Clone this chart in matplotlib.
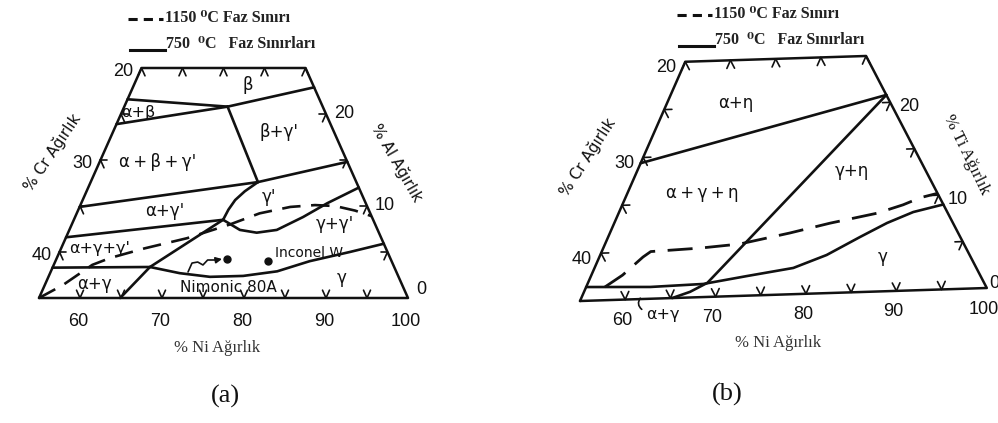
"""
Ni-rich corner of the Ni-Cr-Al (a) and Ni-Cr-Ti (b) sections.
Solid lines: 750 C phase boundaries, dashed: 1150 C boundary.
"""
import matplotlib.pyplot as plt
from matplotlib.transforms import Affine2D

# ---------------- (a) Ni-Cr-Al, points are (Ni wt%, Al wt%) ----------------
a_outline = [(55, 0), (55, 25), (75, 25), (100, 0), (55, 0)]

a_ab_top = [(55, 21.6), (67.6, 20.8)]
a_ab_bottom = [(55, 18.9), (67.6, 20.8)]
a_beta_bottom = [(67.6, 20.8), (77.1, 22.9)]
a_bgp_left = [(67.6, 20.8), (75.4, 12.6)]
a_bgp_bottom = [(75.4, 12.6), (85.2, 14.8)]
a_abg_bottom = [(55, 9.9), (75.4, 12.6)]
a_gp_left = [(73.2, 8.5), (73.3, 9.6), (73.6, 10.65), (74.3, 11.6), (75.4, 12.6)]
a_gp_bottom = [(73.2, 8.5), (75.8, 7.4), (78.0, 7.1), (80.3, 7.4), (82.8, 8.8),
               (85.0, 10.3), (88.0, 12.0)]
a_agp_bottom = [(55, 6.6), (73.2, 8.5)]
a_g_left = [(73.2, 8.5), (66.85, 3.37), (64.9, 0)]
a_ag_top = [(55, 3.3), (66.85, 3.37)]
a_g_top = [(66.85, 3.37), (70.8, 2.7), (74.7, 2.3), (78.7, 2.4), (82.6, 2.9),
           (86.0, 4.0), (90.4, 5.0), (94.1, 5.9)]
a_1150 = [(55, 0), (57.2, 1.4), (59.7, 3.6), (61.5, 4.35), (65.2, 5.4), (69.8, 6.5),
          (74.3, 8.0), (77.3, 9.2), (80.7, 9.9), (83.6, 10.1), (86.1, 10.0),
          (88.8, 9.5), (91.1, 8.9)]

nimonic_80a = (75.8, 4.24)
inconel_w = (80.9, 4.02)
nimonic_arrow = [(71.76, 2.83), (71.76, 3.8), (72.4, 3.91), (73.2, 3.59),
                 (73.5, 4.13), (74.6, 4.13), (75.2, 4.24)]

# ---------------- (b) Ni-Cr-Ti, points are (Ni wt%, Ti wt%) ----------------
b_outline = [(55, 0), (55, 25), (75, 25), (100, 0), (55, 0)]

b_an_bottom = [(55, 14.4), (79.2, 20.8)]
b_gn_left = [(79.2, 20.8), (68.4, 1.5), (66.9, 0.6), (65.2, 0)]
b_g_top = [(55, 1.46), (62.2, 1.25), (68.0, 1.39), (72.5, 2.08), (77.3, 2.78),
           (80.4, 4.04), (83.25, 5.83), (85.6, 7.23), (88.0, 8.3), (91.0, 9.0)]
b_1150 = [(57.1, 1.4), (58.5, 2.6), (59.9, 4.45), (60.5, 5.0), (65.85, 5.2),
          (70.1, 5.5), (75.2, 6.5), (79.2, 7.4), (84.0, 8.3), (86.5, 9.1),
          (88.1, 9.8), (89.8, 10.2)]

# axis ticks and labels (same grid for both sections)
ni_ticks = [60, 65, 70, 75, 80, 85, 90, 95]
top_ticks = [55, 60, 65, 70, 75]
side_ticks = [5, 10, 15, 20]
ni_labels = [60, 70, 80, 90, 100]
cr_labels = [20, 30, 40]
x_labels = [20, 10, 0]

BLACK = '#111111'
HAND = 'DejaVu Sans'
SERIF = ['Liberation Serif', 'DejaVu Serif']

fig = plt.figure(figsize=(9.98, 4.23), dpi=100)
ax = fig.add_axes([0, 0, 1, 1])
ax.set_xlim(0, 998)
ax.set_ylim(423, 0)
ax.axis('off')

# composition -> sheet position for each drawing
aff_a = Affine2D.from_values(8.2, 0.0, 4.1, -9.2, -412.0, 298.0)
aff_b = Affine2D.from_values(9.04, -0.289, 4.21, -9.57, 82.8, 316.9)
tr_a = aff_a + ax.transData
tr_b = aff_b + ax.transData


def draw(tr, pts, lw=1.9, **kw):
    xs, ys = zip(*pts)
    ax.plot(xs, ys, transform=tr, color=BLACK, lw=lw,
            solid_joinstyle='round', solid_capstyle='round', **kw)


TICK_DIRS = {'bottom': [(0, 1), (-1, 1)], 'top': [(0, -1), (1, -1)],
             'left': [(1, 0), (1, -1)], 'right': [(-1, 0), (0, -1)]}


def edge_ticks(tr, pts, side, size=0.85):
    for ni, x in pts:
        for dn, dx in TICK_DIRS[side]:
            ax.plot([ni, ni + dn * size], [x, x + dx * size], transform=tr,
                    color=BLACK, lw=1.2, solid_capstyle='round')


def numbers(aff, dx_bot, dy_bot, dx_l, dy_l, dx_r, dy_r):
    for v in ni_labels:
        px, py = aff.transform((v, 0))
        ax.text(px + dx_bot, py + dy_bot, str(v), ha='center', va='center',
                fontsize=13, family='Liberation Sans', color=BLACK)
    for v in cr_labels:
        px, py = aff.transform((55, 45 - v))
        ax.text(px + dx_l, py + dy_l, str(v), ha='right', va='center',
                fontsize=13, family='Liberation Sans', color=BLACK)
    for v in x_labels:
        px, py = aff.transform((100 - v, v))
        # the zero sits a little higher and, on the right sheet, hugs the border
        if v == 0:
            px = min(px + dx_r, 989) - dx_r
            py -= 8
        ax.text(px + dx_r, py + dy_r, str(v), ha='left', va='center',
                fontsize=13, family='Liberation Sans', color=BLACK)


def frame(tr, outline):
    draw(tr, outline, lw=1.8)
    edge_ticks(tr, [(v, 0) for v in ni_ticks], 'bottom')
    edge_ticks(tr, [(v, 25) for v in top_ticks], 'top')
    edge_ticks(tr, [(55, v) for v in side_ticks], 'left')
    edge_ticks(tr, [(100 - v, v) for v in side_ticks], 'right')


def legend(x0, y0):
    ax.plot([x0, x0 + 35], [y0, y0], color=BLACK, lw=2.2, dashes=[3, 2])
    ax.text(x0 + 37, y0 - 1, '1150 \u2070C Faz S\u0131n\u0131r\u0131', ha='left',
            va='center', fontsize=11.5, fontweight='bold', family=SERIF, color='#222222')
    ax.plot([x0 + 2, x0 + 37], [y0 + 31, y0 + 31], color=BLACK, lw=2.2)
    ax.text(x0 + 38, y0 + 25, '750  \u2070C   Faz S\u0131n\u0131rlar\u0131', ha='left',
            va='center', fontsize=11.5, fontweight='bold', family=SERIF, color='#222222')


def region(x, y, s, size=12):
    ax.text(x, y, s, ha='center', va='center', fontsize=size, family=HAND, color=BLACK)


# ---------------- drawing (a) ----------------
frame(tr_a, a_outline)
for seg in [a_ab_top, a_ab_bottom, a_beta_bottom, a_bgp_left, a_bgp_bottom,
            a_abg_bottom, a_gp_left, a_gp_bottom, a_agp_bottom, a_g_left,
            a_ag_top, a_g_top]:
    draw(tr_a, seg)
draw(tr_a, a_1150, lw=1.9, dashes=[7, 4])

for alloy in [nimonic_80a, inconel_w]:
    ax.plot([alloy[0]], [alloy[1]], 'o', ms=5, color=BLACK, transform=tr_a)
draw(tr_a, nimonic_arrow[:-1], lw=1.2)
ax.annotate('', xy=nimonic_arrow[-1], xytext=nimonic_arrow[-2], xycoords=tr_a,
            textcoords=tr_a, arrowprops=dict(arrowstyle='-|>', color=BLACK, lw=1.2,
                                             mutation_scale=9, shrinkA=0, shrinkB=0))

region(248, 85, '\u03b2')
region(138, 113, '\u03b1+\u03b2', 11.5)
region(279, 132, '\u03b2+\u03b3\'')
region(158, 162, '\u03b1\u2009+\u2009\u03b2\u2009+\u2009\u03b3\'')
region(165, 211, '\u03b1+\u03b3\'')
region(269, 197, '\u03b3\'')
region(335, 224, '\u03b3+\u03b3\'')
region(100, 248, '\u03b1+\u03b3+\u03b3\'', 11.5)
region(94, 284, '\u03b1+\u03b3')
region(342, 278, '\u03b3')
ax.text(275, 253, 'Inconel W', ha='left', va='center', fontsize=10, family=HAND, color=BLACK)
ax.text(228, 288, 'Nimonic 80A', ha='center', va='center', fontsize=11, family=HAND,
        color=BLACK)

numbers(aff_a, -2, 24, -8, 3, 8, 0)
ax.text(52, 152, '% Cr A\u011f\u0131rl\u0131k', rotation=56, ha='center', va='center',
        fontsize=11, family=HAND, color=BLACK)
ax.text(397, 163, '% Al A\u011f\u0131rl\u0131k', rotation=-60, ha='center', va='center',
        fontsize=11, family=HAND, color=BLACK)
ax.text(217, 348, '% Ni A\u011f\u0131rl\u0131k', ha='center', va='center', fontsize=12,
        family=SERIF, color='#333333')
legend(128, 19)
ax.text(225, 396, '(a)', ha='center', va='center', fontsize=19, family=SERIF, color=BLACK)

# ---------------- drawing (b) ----------------
frame(tr_b, b_outline)
for seg in [b_an_bottom, b_gn_left, b_g_top]:
    draw(tr_b, seg)
draw(tr_b, b_1150, lw=2.0, dashes=[9, 4.5])

region(736, 103, '\u03b1+\u03b7')
region(702, 193, '\u03b1\u2009+\u2009\u03b3\u2009+\u2009\u03b7')
region(852, 171, '\u03b3+\u03b7')
region(883, 257, '\u03b3')
region(663, 315, '\u03b1+\u03b3', 11.5)
ax.annotate('', xy=(642, 296), xytext=(644, 311),
            arrowprops=dict(arrowstyle='-', color=BLACK, lw=1.2,
                            connectionstyle='arc3,rad=-0.6'))

numbers(aff_b, -3, 21, -9, 6, 9, 4)
ax.text(588, 157, '% Cr A\u011f\u0131rl\u0131k', rotation=57, ha='center', va='center',
        fontsize=11, family=HAND, color=BLACK)
ax.text(966, 155, '% Ti A\u011f\u0131rl\u0131k', rotation=-64, ha='center', va='center',
        fontsize=12.5, family=SERIF, color=BLACK)
ax.text(778, 343, '% Ni A\u011f\u0131rl\u0131k', ha='center', va='center', fontsize=12,
        family=SERIF, color='#333333')
legend(677, 15)
ax.text(727, 394, '(b)', ha='center', va='center', fontsize=19, family=SERIF, color=BLACK)

fig.savefig('out.png', dpi=100)
